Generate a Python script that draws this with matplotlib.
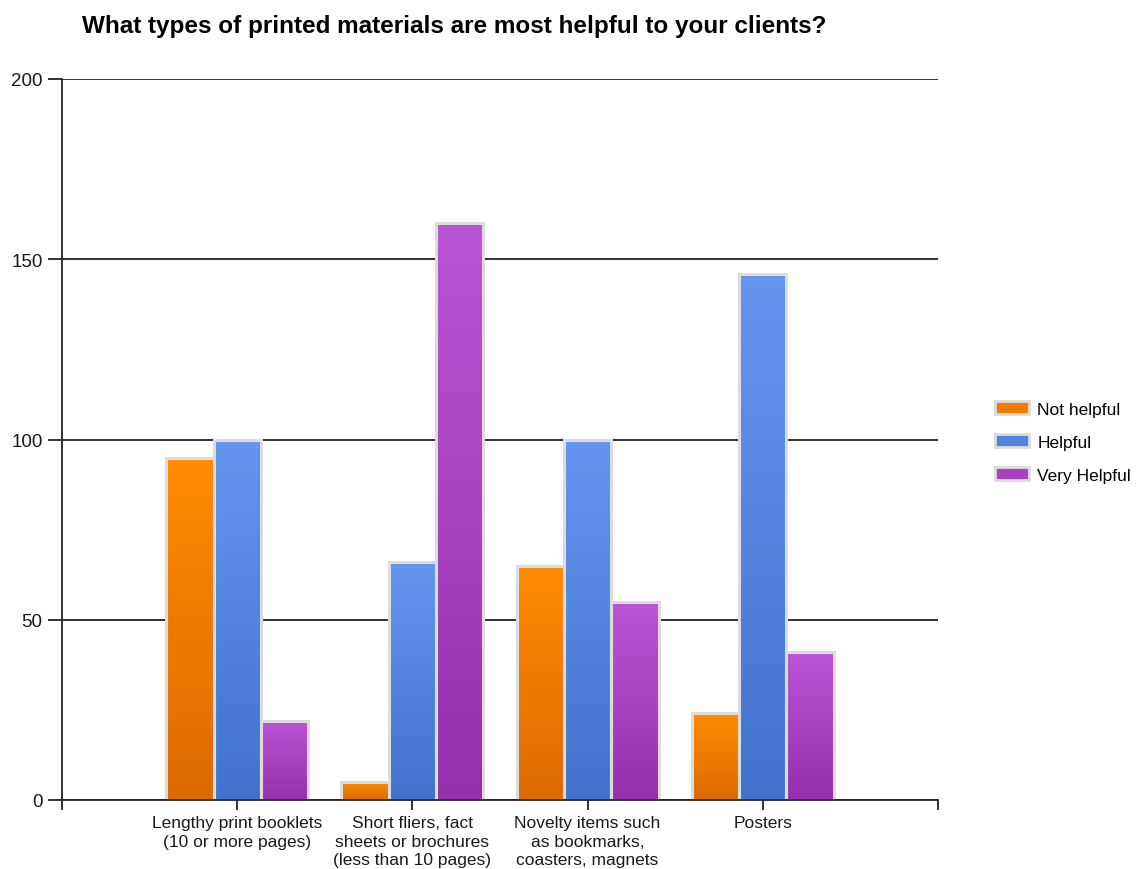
import numpy as np
import matplotlib
matplotlib.use("Agg")
import matplotlib.pyplot as plt
from matplotlib.colors import LinearSegmentedColormap
from matplotlib.patches import Patch

plt.rcParams['font.family'] = ['Liberation Sans', 'DejaVu Sans']

title = "What types of printed materials are most helpful to your clients?"
categories = ["Lengthy print booklets\n(10 or more pages)",
              "Short fliers, fact\nsheets or brochures\n(less than 10 pages)",
              "Novelty items such\nas bookmarks,\ncoasters, magnets",
              "Posters"]
series_names = ["Not helpful", "Helpful", "Very Helpful"]
not_helpful = [95, 5, 65, 24]
helpful = [100, 66, 100, 146]
very_helpful = [22, 160, 55, 41]
yticks = [0, 50, 100, 150, 200]

series = [not_helpful, helpful, very_helpful]
grad = [("#ff8c00", "#dc6a00"), ("#6496ee", "#4173cc"), ("#bb55d6", "#952fab")]
mid = ["#f07c00", "#5283dd", "#a842c0"]

fig = plt.figure(figsize=(11.36, 8.70), dpi=100)
ax = fig.add_axes([62/1136, 1-801/870, (938-62)/1136, (801-80)/870])

x = np.arange(1, len(categories)+1)
bw = 0.27
offsets = [-bw, 0, bw]
gimg = np.linspace(0, 1, 256).reshape(-1, 1)
for vals, off, (ctop, cbot), nm in zip(series, offsets, grad, series_names):
    cmap = LinearSegmentedColormap.from_list(nm, [cbot, ctop])
    bars = ax.bar(x + off, vals, width=bw, facecolor='none', edgecolor='#dcdcdc',
                  linewidth=2.2, zorder=3)
    for b in bars:
        x0, y0 = b.get_x(), b.get_y()
        w, h = b.get_width(), b.get_height()
        im = ax.imshow(gimg, cmap=cmap, origin='lower', aspect='auto',
                       extent=[x0, x0+w, y0, y0+h], zorder=2.5, interpolation='bilinear')
        im.set_clip_path(b)

ax.set_xlim(0, len(categories)+1)
ax.set_ylim(0, 200)
ax.set_yticks(yticks)
ax.set_yticklabels([str(t) for t in yticks], fontsize=13.5, color='#1a1a1a')
ax.set_xticks(np.arange(0, len(categories)+2))
ax.set_xticklabels([""] + categories + [""], fontsize=12.5, color='#1a1a1a', linespacing=1.3)
ax.yaxis.grid(True, color='#222222', linewidth=1.3, zorder=1)
ax.set_axisbelow(True)
for s in ['top', 'right']:
    ax.spines[s].set_visible(False)
for s in ['left', 'bottom']:
    ax.spines[s].set_color('#222222')
    ax.spines[s].set_linewidth(1.3)
    ax.spines[s].set_zorder(4)
ax.tick_params(axis='y', length=10, width=1.3, color='#222222', pad=4)
ax.tick_params(axis='x', length=7, width=1.3, color='#222222', pad=4)
ax.set_xlim(0, len(categories)+1)

fig.text(82/1136, 1-27/870, title, fontsize=17.5, fontweight='bold', va='center', ha='left')

handles = [Patch(facecolor=m, edgecolor='#dcdcdc', linewidth=2) for m in mid]
fig.legend(handles, series_names, loc='center left', bbox_to_anchor=(979/1136, 1-443/870),
           frameon=False, fontsize=12.5, handlelength=2.0, handleheight=0.8,
           labelspacing=1.0, handletextpad=0.45)

fig.savefig("out.png", dpi=100)
